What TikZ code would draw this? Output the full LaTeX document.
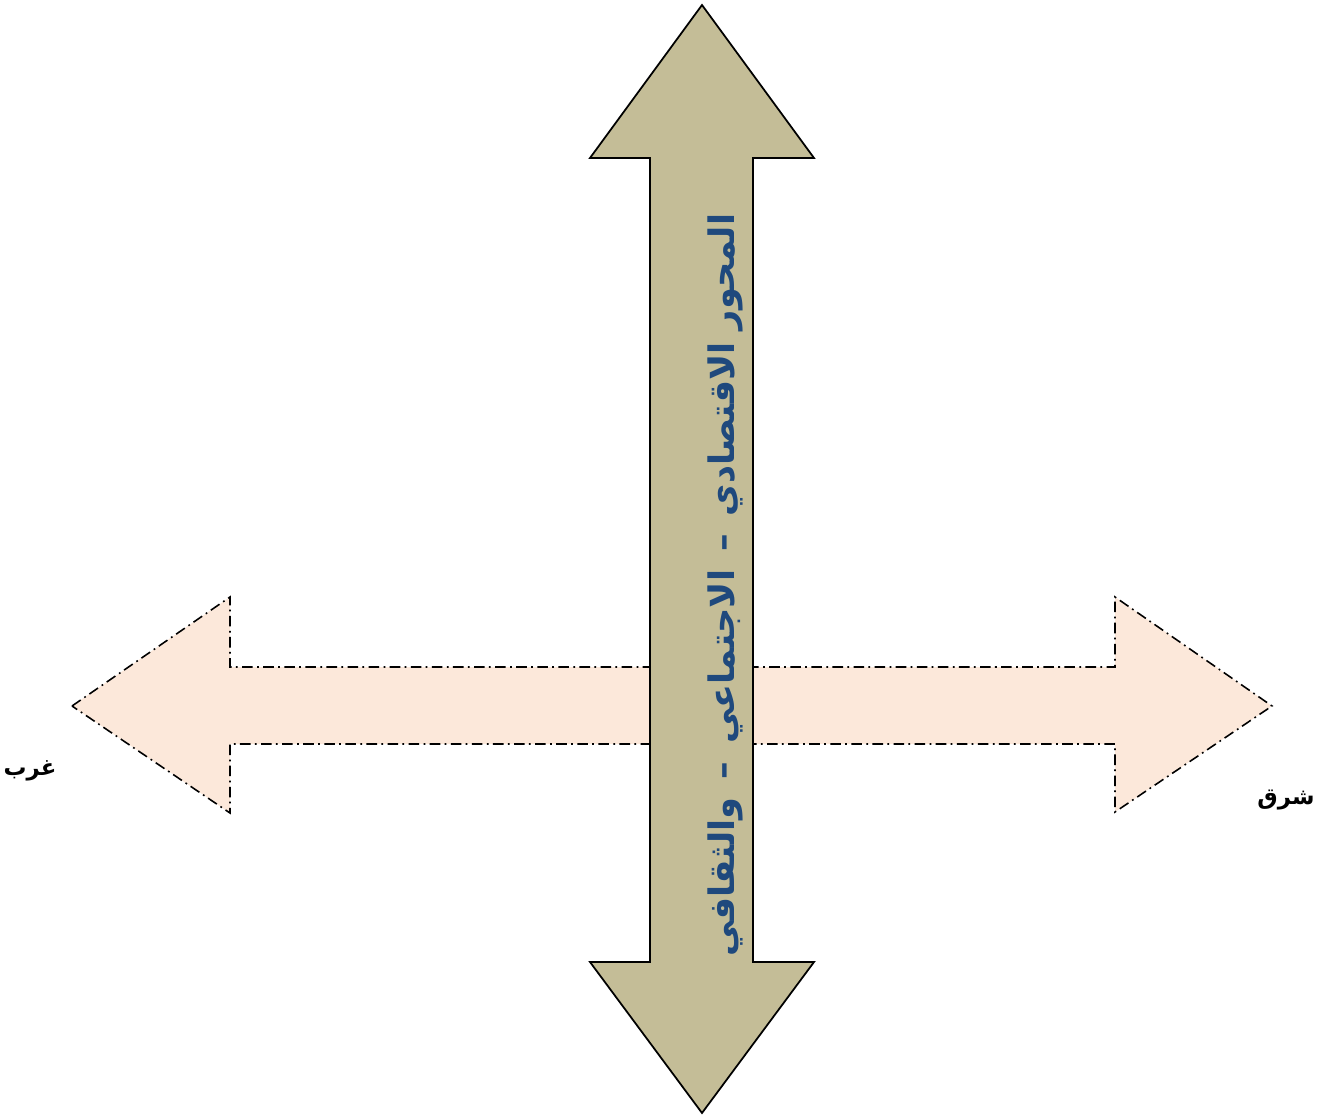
\documentclass[tikz,border=0pt]{standalone}
\usepackage{fontspec}
\setmainfont{Liberation Sans}
\newfontfamily\arabicfont[Script=Arabic]{DejaVu Sans}
\TeXXeTstate=1
\definecolor{axisfill}{HTML}{C4BD97}
\definecolor{sidefill}{HTML}{FCE8DA}
\definecolor{axistext}{HTML}{1F497D}
\tikzset{
  axisarrow/.style={fill=axisfill, draw=black, line width=1pt, line join=miter},
  sidearrow/.style={fill=sidefill, draw=black, line width=0.9pt, dash pattern=on 6pt off 2.5pt on 1pt off 2.5pt},
  dirlabel/.style={font=\arabicfont\bfseries\fontsize{13}{15}\selectfont, text=black, inner sep=0pt},
  axislabel/.style={font=\arabicfont\bfseries\fontsize{20}{24}\selectfont, text=axistext, inner sep=0pt, rotate=90}
}
\begin{document}
\begin{tikzpicture}[x=0.02cm, y=-0.02cm]
  \useasboundingbox (0,0) rectangle (1330,1116);
  % horizontal double arrow (east--west)
  \draw[sidearrow] (72,706) -- (230,597) -- (230,667) -- (1115,667) -- (1115,597)
    -- (1272,706) -- (1115,812) -- (1115,744) -- (230,744) -- (230,813) -- cycle;
  % vertical double arrow
  \draw[axisarrow] (702,5) -- (814,158) -- (753,158) -- (753,962) -- (814,962)
    -- (702,1113) -- (590,962) -- (650,962) -- (650,158) -- (590,158) -- cycle;
  \coordinate (axiscentre) at (725,585);
  \node[axislabel] (axisname) at (axiscentre)
    {\beginR المحور الاقتصادي \,–\, الاجتماعي \,–\, والثقافي\endR};
  \node[dirlabel] (west) at (30,771) {\beginR غرب\endR};
  \node[dirlabel] (east) at (1286,800) {\beginR شرق\endR};
\end{tikzpicture}
\end{document}
